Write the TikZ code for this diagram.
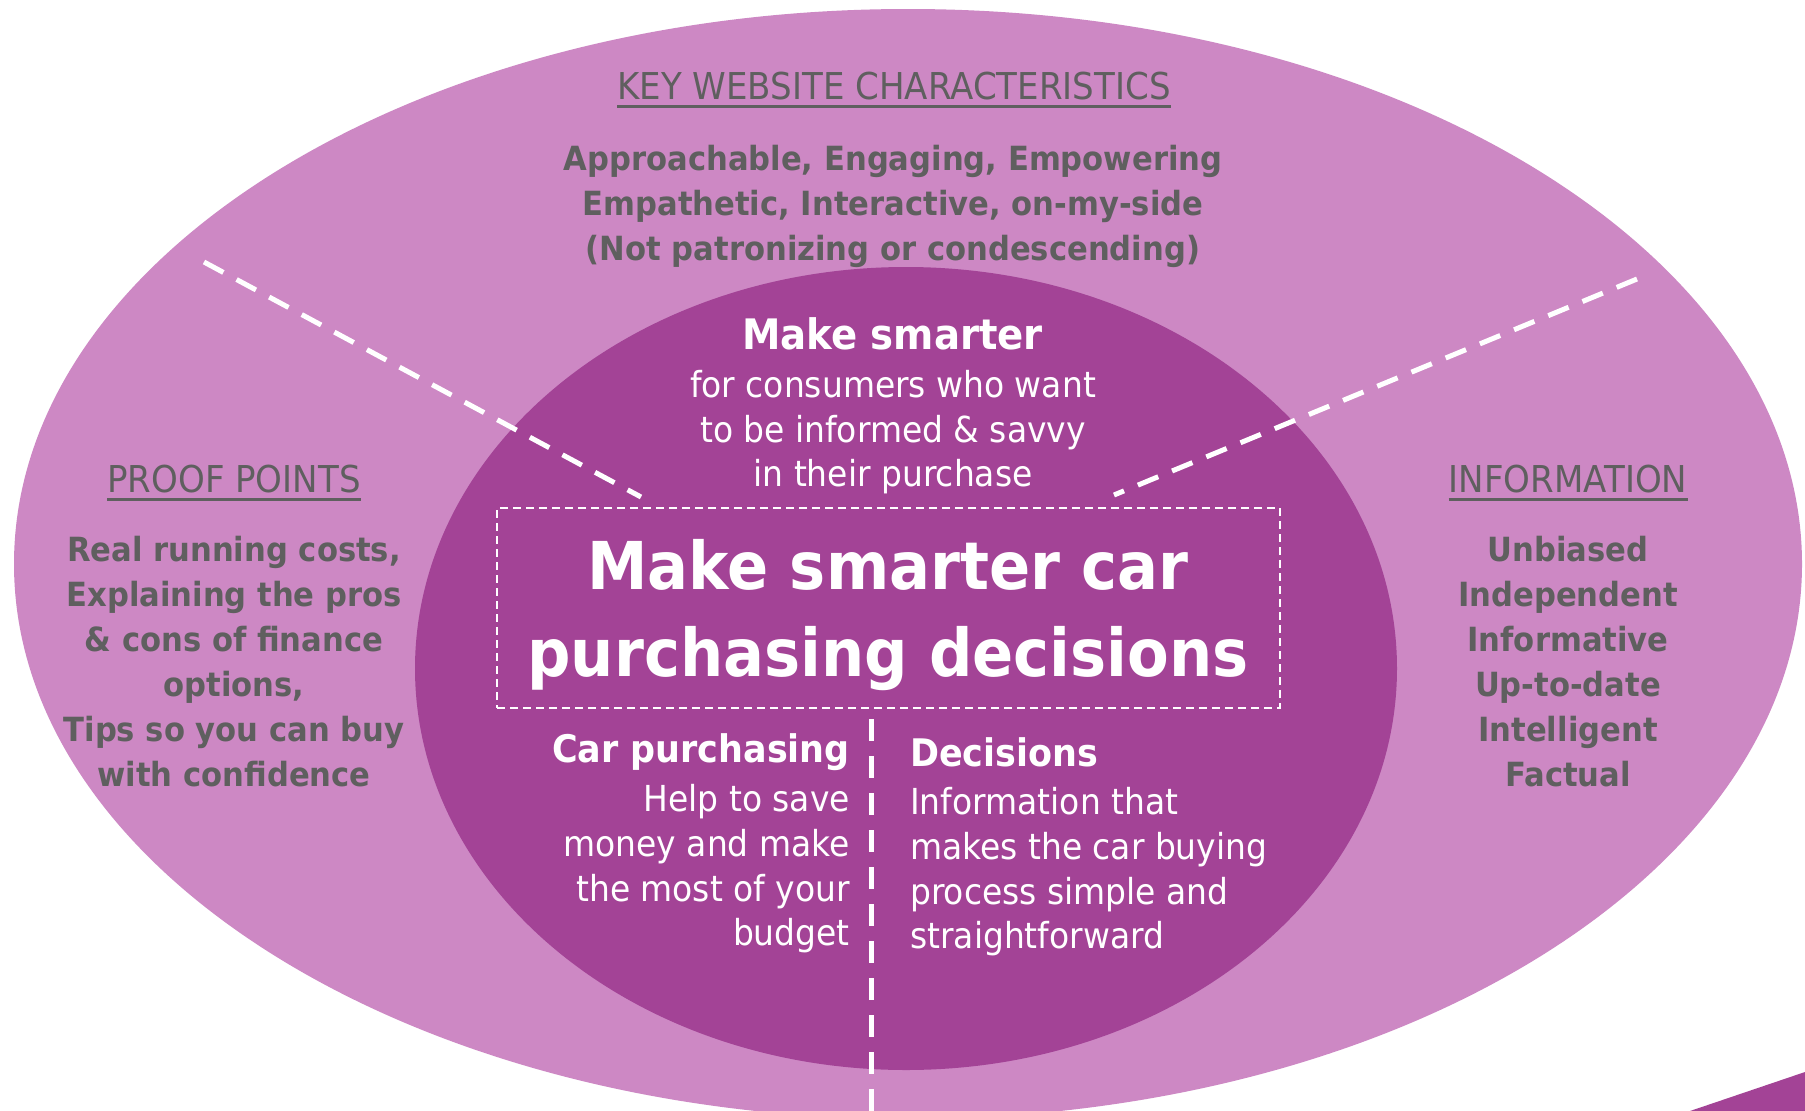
\documentclass[tikz,border=0pt]{standalone}
\usepackage{fontspec}
\setmainfont{DejaVu Sans}[FakeStretch=0.92]
\definecolor{outerc}{HTML}{CD88C4}
\definecolor{innerc}{HTML}{A34396}
\definecolor{greyt}{HTML}{5F5F5F}
\tikzset{
  bigdash/.style={white, line width=5pt, dash pattern=on 22pt off 15pt},
  boxdash/.style={draw=white, line width=2pt, dash pattern=on 8pt off 5pt},
  ghead/.style={text=greyt, inner sep=0pt, font=\fontsize{37}{44}\selectfont},
  gbody/.style={text=greyt, inner sep=0pt, align=center, font=\fontsize{33.3}{45}\selectfont\bfseries},
  whead/.style={text=white, inner sep=0pt, font=\fontsize{38}{45}\selectfont\bfseries},
  wbody/.style={text=white, inner sep=0pt, font=\fontsize{35.8}{44.6}\selectfont},
  uline/.style={greyt, line width=2.7pt}
}
\begin{document}
\begin{tikzpicture}[x=1pt,y=-1pt]
\useasboundingbox (0,0) rectangle (1805,1111);
\clip (0,0) rectangle (1805,1111);
\fill[white] (0,0) rectangle (1805,1111);
\fill[outerc] (908,564) ellipse [x radius=894pt, y radius=555pt];
\fill[innerc] (906,668.5) ellipse [x radius=491pt, y radius=401.5pt];
\fill[innerc] (1690,1111) -- (1805,1072) -- (1805,1111) -- cycle;

% dashed dividers
\coordinate (l1) at (204,262);
\coordinate (l2) at (641,497);
\coordinate (r1) at (1637,279);
\coordinate (r2) at (1114,495);
\coordinate (v1) at (871,719);
\coordinate (v2) at (871,1115);
\draw[bigdash] (l1) -- (l2);
\draw[bigdash] (r1) -- (r2);
\draw[bigdash] (v1) -- (v2);

% central box and title
\node[boxdash, minimum width=783pt, minimum height=200pt, inner sep=0pt] (box) at (888.5,608) {};
\node[text=white, inner sep=0pt, align=center, font=\fontsize{66}{87}\selectfont\bfseries] (title) at (888,615.5) {Make smarter car\\purchasing decisions};

% top
\node[ghead] (kwc) at (894,86) {KEY WEBSITE CHARACTERISTICS};
\draw[uline] ([yshift=-6pt]kwc.south west) -- ([yshift=-6pt]kwc.south east);
\node[gbody] (kwcb) at (893,206.5) {Approachable, Engaging, Empowering\\Empathetic, Interactive, on-my-side\\(Not patronizing or condescending)};

% make smarter
\node[whead, font=\fontsize{42}{48}\selectfont\bfseries] (ms) at (892.5,334) {Make smarter};
\node[wbody, align=center] (msb) at (893,432.5) {for consumers who want\\to be informed \& savvy\\in their purchase};

% car purchasing
\node[whead, anchor=east] (cp) at (850,752.5) {Car purchasing};
\node[wbody, align=right, anchor=east] (cpb) at (850,869) {Help to save\\money and make\\the most of your\\budget};

% decisions
\node[whead, anchor=west] (dc) at (910,752) {Decisions};
\node[wbody, align=left, anchor=west] (dcb) at (910,872) {Information that\\makes the car buying\\process simple and\\straightforward};

% proof points
\node[ghead] (pp) at (234,479) {PROOF POINTS};
\draw[uline] ([yshift=-6pt]pp.south west) -- ([yshift=-6pt]pp.south east);
\node[gbody] (ppb) at (234,662) {Real running costs,\\Explaining the pros\\\& cons of finance\\options,\\Tips so you can buy\\with confidence};

% information
\node[ghead] (inf) at (1568,479) {INFORMATION};
\draw[uline] ([yshift=-6pt]inf.south west) -- ([yshift=-6pt]inf.south east);
\node[gbody] (infb) at (1568,662) {Unbiased\\Independent\\Informative\\Up-to-date\\Intelligent\\Factual};
\end{tikzpicture}
\end{document}
